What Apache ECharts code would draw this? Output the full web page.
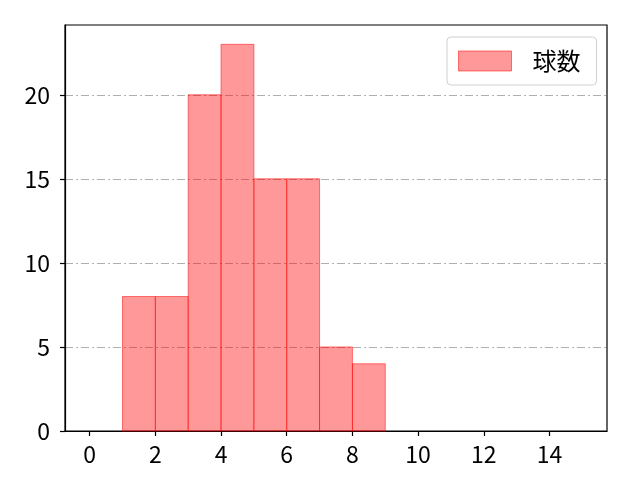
<!DOCTYPE html>
<html>
<head>
<meta charset="utf-8">
<script src="https://cdn.jsdelivr.net/npm/echarts@6/dist/echarts.min.js"></script>
<style>
  html, body { margin: 0; padding: 0; background: #fff; }
  #chart { width: 640px; height: 480px; }
</style>
</head>
<body>
<div id="chart"></div>
<script>
const binStarts = [1, 2, 3, 4, 5, 6, 7, 8]
const binWidth = 1
const counts = [8, 8, 20, 23, 15, 15, 5, 4]
const xTicks = [0, 2, 4, 6, 8, 10, 12, 14]
const yTicks = [0, 5, 10, 15, 20]
const seriesName = '球数'

const chart = echarts.init( document.getElementById( 'chart' ), null, { renderer: 'canvas' } )

const font = '"Noto Sans CJK JP", "DejaVu Sans", sans-serif'
const fill = 'rgba(255,0,0,0.4)'
const edge = 'rgba(255,0,0,0.5)'

const option = {
	animation: false,
	grid: {
		left: 65, right: 33, top: 25, bottom: 49,
		show: true, borderColor: '#000', borderWidth: 1.2, backgroundColor: 'transparent'
	},
	legend: {
		left: 447, top: 37,
		icon: 'rect', itemWidth: 53, itemHeight: 20, itemGap: 10,
		padding: [12, 16, 12, 11],
		backgroundColor: '#fff', borderColor: '#d0d0d0', borderWidth: 1, borderRadius: 4,
		textStyle: { fontFamily: font, fontSize: 24, lineHeight: 22, color: '#000', padding: [0, 0, 0, 16] },
		data: [ { name: seriesName, itemStyle: { color: fill, borderColor: edge, borderWidth: 1 } } ]
	},
	xAxis: {
		type: 'value', min: -0.75, max: 15.75,
		axisLine: { show: true, onZero: false, lineStyle: { color: '#000', width: 1.2 } },
		axisTick: { show: true, length: 5, lineStyle: { color: '#000', width: 1.2 }, customValues: xTicks },
		axisLabel: { customValues: xTicks, fontFamily: font, fontSize: 23, color: '#000', margin: 12 },
		splitLine: { show: false }
	},
	yAxis: {
		type: 'value', min: 0, max: 24.15, interval: 5,
		axisLine: { show: true, onZero: false, lineStyle: { color: '#000', width: 1.2 } },
		axisTick: { show: true, length: 5, lineStyle: { color: '#000', width: 1.2 }, customValues: yTicks },
		axisLabel: { customValues: yTicks, fontFamily: font, fontSize: 23, color: '#000', margin: 15 },
		splitLine: { show: true, lineStyle: { color: '#b0b0b0', width: 1, type: [8, 3, 2, 3] } }
	},
	series: [ {
		name: seriesName,
		type: 'custom',
		itemStyle: { color: fill, borderColor: edge },
		renderItem: ( params, api ) => {
			const x0 = api.value( 0 )
			const h = api.value( 1 )
			const p0 = api.coord( [ x0, 0 ] )
			const p1 = api.coord( [ x0 + binWidth, h ] )
			return {
				type: 'rect',
				shape: { x: p0[0], y: p1[1], width: p1[0] - p0[0], height: p0[1] - p1[1] },
				style: { fill: fill, stroke: edge, lineWidth: 1 }
			}
		},
		encode: { x: 0, y: 1 },
		data: binStarts.map( ( s, i ) => [ s, counts[i] ] )
	} ]
}

chart.setOption( option )
</script>
</body>
</html>
